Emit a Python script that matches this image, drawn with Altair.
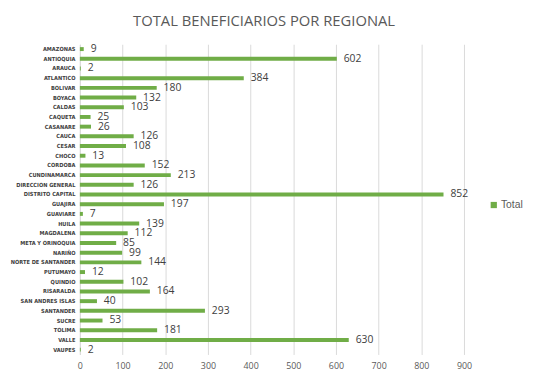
import altair as alt
import pandas as pd

regions = ["AMAZONAS", "ANTIOQUIA", "ARAUCA", "ATLANTICO", "BOLIVAR", "BOYACA", "CALDAS",
           "CAQUETA", "CASANARE", "CAUCA", "CESAR", "CHOCO", "CORDOBA", "CUNDINAMARCA",
           "DIRECCION GENERAL", "DISTRITO CAPITAL", "GUAJIRA", "GUAVIARE", "HUILA",
           "MAGDALENA", "META Y ORINOQUIA", "NARIÑO", "NORTE DE SANTANDER", "PUTUMAYO",
           "QUINDIO", "RISARALDA", "SAN ANDRES ISLAS", "SANTANDER", "SUCRE", "TOLIMA",
           "VALLE", "VAUPES"]
totals = [9, 602, 2, 384, 180, 132, 103, 25, 26, 126, 108, 13, 152, 213, 126, 852, 197,
          7, 139, 112, 85, 99, 144, 12, 102, 164, 40, 293, 53, 181, 630, 2]
x_ticks = [0, 100, 200, 300, 400, 500, 600, 700, 800, 900]

df = pd.DataFrame({"Regional": regions, "Total": totals, "Serie": ["Total"] * len(regions)})

GREEN = "#70AD47"

y_enc = alt.Y("Regional:N", sort=regions, title=None,
              scale=alt.Scale(paddingInner=0.6, paddingOuter=0.3),
              axis=alt.Axis(labelFont="DejaVu Sans Condensed, Liberation Sans, sans-serif",
                            labelFontSize=5.7, labelFontWeight="bold", labelColor="#404040",
                            ticks=False, domain=True, domainColor="#d9d9d9",
                            labelPadding=5))
x_enc = alt.X("Total:Q", title=None,
              scale=alt.Scale(domain=[0, 900], nice=False),
              axis=alt.Axis(values=x_ticks, grid=True, gridColor="#d9d9d9", domain=False,
                            ticks=False, labelFlush=False,
                            labelFont="Open Sans, sans-serif", labelFontSize=9,
                            labelColor="#595959", labelPadding=7))

bars = alt.Chart(df).mark_bar(size=4).encode(
    y=y_enc, x=x_enc,
    color=alt.Color("Serie:N", scale=alt.Scale(domain=["Total"], range=[GREEN]),
                    legend=alt.Legend(title=None, orient="none", legendX=415, legendY=158,
                                      symbolType="square", symbolSize=40, labelOffset=2,
                                      labelFont="Liberation Sans, sans-serif", labelFontSize=10.5,
                                      labelColor="#595959", symbolStrokeWidth=0)),
)

labels = alt.Chart(df).mark_text(align="left", baseline="middle", dx=7,
                                 font="Open Sans, sans-serif", fontSize=10.5,
                                 color="#404040").encode(
    y=alt.Y("Regional:N", sort=regions), x="Total:Q", text="Total:Q")

chart = (bars + labels).properties(
    width=390, height=315,
    title=alt.TitleParams("TOTAL BENEFICIARIOS POR REGIONAL", font="Open Sans, sans-serif",
                          fontSize=15, fontWeight="normal", color="#595959",
                          anchor="middle", dx=-8, offset=15),
    autosize=alt.AutoSizeParams(type="none"),
    padding={"left": 73, "top": 34, "right": 65, "bottom": 15},
).configure_view(stroke=None)

chart.save("out.html", embed_options={"renderer": "svg", "actions": False})
